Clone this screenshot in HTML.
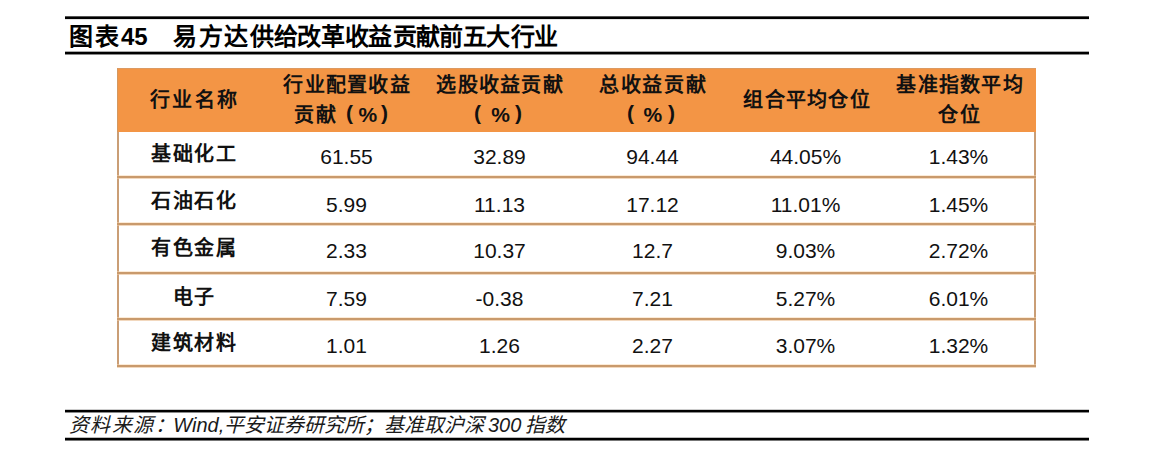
<!DOCTYPE html>
<html lang="zh-CN">
<head>
<meta charset="utf-8">
<style>
*{margin:0;padding:0;box-sizing:border-box;}
html,body{width:1176px;height:469px;background:#fff;overflow:hidden;}
body{position:relative;font-family:"Liberation Sans",sans-serif;color:#111;text-spacing-trim:space-all;}
.a{position:absolute;white-space:nowrap;}
.hl{position:absolute;left:65px;width:1024px;}
.tt span{position:absolute;top:22px;font-size:24px;font-weight:bold;line-height:30px;color:#000;}
.t{font-size:24px;font-weight:bold;line-height:30px;color:#000;top:22px;}
.hdr{position:absolute;left:117px;top:68px;width:919px;height:64px;background:#F39545;border-top:1px solid #DC9A62;border-left:1px solid #D4985F;}
.vb{position:absolute;top:132px;width:2px;height:235px;background:#CA9E76;}
.sep{position:absolute;left:117px;width:919px;height:2px;background:#C99A6C;box-shadow:0 -1px 0 rgba(250,215,175,.5),0 1px 0 rgba(235,195,155,.65);}
.c{position:absolute;width:153px;text-align:center;white-space:nowrap;}
.h{font-size:20px;font-weight:bold;line-height:31px;color:#111;letter-spacing:1.3px;padding-left:1.3px;}
.d{font-size:21px;line-height:24px;color:#111;}
.k{font-weight:bold;font-size:20px;letter-spacing:1.5px;padding-left:1.5px;}
.pp{position:absolute;font-size:20px;font-weight:bold;line-height:31px;color:#111;}
.pr{font-size:21px;}
.f{font-size:20px;line-height:26px;font-style:italic;color:#1a1a1a;top:412px;}
</style>
</head>
<body>
<!-- title rules -->
<div class="hl" style="top:16px;height:1px;background:#555"></div>
<div class="hl" style="top:17px;height:2px;background:#000"></div>
<div class="hl" style="top:19px;height:1px;background:#e4e4e4"></div>
<div class="hl" style="top:51px;height:1px;background:#aaa"></div>
<div class="hl" style="top:52px;height:2px;background:#000"></div>
<div class="hl" style="top:54px;height:1px;background:#888"></div>

<div class="tt"><span style="left:68.8px">图</span><span style="left:94.6px">表</span></div>
<div class="a t" style="left:121px">45</div>
<div class="tt"><span style="left:173.4px">易</span><span style="left:199.1px">方</span><span style="left:224.0px">达</span><span style="left:250.0px">供</span><span style="left:274.4px">给</span><span style="left:297.2px">改</span><span style="left:321.0px">革</span><span style="left:344.9px">收</span><span style="left:368.4px">益</span><span style="left:392.7px">贡</span><span style="left:415.8px">献</span><span style="left:439.0px">前</span><span style="left:463.3px">五</span><span style="left:485.7px">大</span><span style="left:510.5px">行</span><span style="left:534.0px">业</span></div>

<!-- header -->
<div class="hdr"></div>
<div class="c h" style="left:117px;top:85px;letter-spacing:2.1px;padding-left:2.1px">行业名称</div>
<div class="c h" style="left:270px;top:70px">行业配置收益</div>
<div class="c h" style="left:423px;top:70px">选股收益贡献</div>
<div class="c h" style="left:576px;top:70px;letter-spacing:1.6px;padding-left:1.6px">总收益贡献</div>
<div class="c h" style="left:730px;top:85px">组合平均仓位</div>
<div class="c h" style="left:883px;top:70px">基准指数平均</div>
<div class="c h" style="left:882px;top:100px;letter-spacing:2px;padding-left:2px">仓位</div>

<div class="a h" style="left:294px;top:100px;padding:0;letter-spacing:2px">贡献</div>
<div class="pp pr" style="left:346px;top:97px">(</div>
<div class="pp pr" style="left:358.5px;top:98.5px">%</div>
<div class="pp pr" style="left:381px;top:97px">)</div>

<div class="pp pr" style="left:474px;top:97px">(</div>
<div class="pp pr" style="left:491.3px;top:98.5px">%</div>
<div class="pp pr" style="left:515px;top:97px">)</div>

<div class="pp pr" style="left:627px;top:97px">(</div>
<div class="pp pr" style="left:643.5px;top:98.5px">%</div>
<div class="pp pr" style="left:668px;top:97px">)</div>

<!-- borders -->
<div class="vb" style="left:117px"></div>
<div class="vb" style="left:1034px"></div>
<div class="sep" style="top:176px"></div>
<div class="sep" style="top:223px"></div>
<div class="sep" style="top:272px"></div>
<div class="sep" style="top:318px"></div>
<div class="sep" style="top:365px"></div>

<!-- rows -->
<div class="c d k" style="left:117px;top:142px">基础化工</div>
<div class="c d" style="left:270px;top:145px">61.55</div>
<div class="c d" style="left:423px;top:145px">32.89</div>
<div class="c d" style="left:576px;top:145px">94.44</div>
<div class="c d" style="left:729px;top:145px">44.05%</div>
<div class="c d" style="left:882px;top:145px">1.43%</div>

<div class="c d k" style="left:117px;top:189px">石油石化</div>
<div class="c d" style="left:270px;top:193px">5.99</div>
<div class="c d" style="left:423px;top:193px">11.13</div>
<div class="c d" style="left:576px;top:193px">17.12</div>
<div class="c d" style="left:729px;top:193px">11.01%</div>
<div class="c d" style="left:882px;top:193px">1.45%</div>

<div class="c d k" style="left:117px;top:236px">有色金属</div>
<div class="c d" style="left:270px;top:239px">2.33</div>
<div class="c d" style="left:423px;top:239px">10.37</div>
<div class="c d" style="left:576px;top:239px">12.7</div>
<div class="c d" style="left:729px;top:239px">9.03%</div>
<div class="c d" style="left:882px;top:239px">2.72%</div>

<div class="c d k" style="left:117px;top:285px">电子</div>
<div class="c d" style="left:270px;top:287px">7.59</div>
<div class="c d" style="left:423px;top:287px">-0.38</div>
<div class="c d" style="left:576px;top:287px">7.21</div>
<div class="c d" style="left:729px;top:287px">5.27%</div>
<div class="c d" style="left:882px;top:287px">6.01%</div>

<div class="c d k" style="left:117px;top:331px">建筑材料</div>
<div class="c d" style="left:270px;top:334px">1.01</div>
<div class="c d" style="left:423px;top:334px">1.26</div>
<div class="c d" style="left:576px;top:334px">2.27</div>
<div class="c d" style="left:729px;top:334px">3.07%</div>
<div class="c d" style="left:882px;top:334px">1.32%</div>

<!-- footer rules -->
<div class="hl" style="top:409px;height:1px;background:#ccc"></div>
<div class="hl" style="top:410px;height:2px;background:#000"></div>
<div class="hl" style="top:412px;height:1px;background:#8a8a8a"></div>
<div class="hl" style="top:437px;height:1px;background:#bbb"></div>
<div class="hl" style="top:438px;height:2px;background:#000"></div>
<div class="hl" style="top:440px;height:1px;background:#777"></div>

<div class="a f" style="left:69px;letter-spacing:1.4px">资料来源：</div>
<div class="a f" style="left:173.3px">Wind,平安证券研究所；基准取沪深</div>
<div class="a f" style="left:488px;word-spacing:-1.5px">300 指数</div>
</body>
</html>
